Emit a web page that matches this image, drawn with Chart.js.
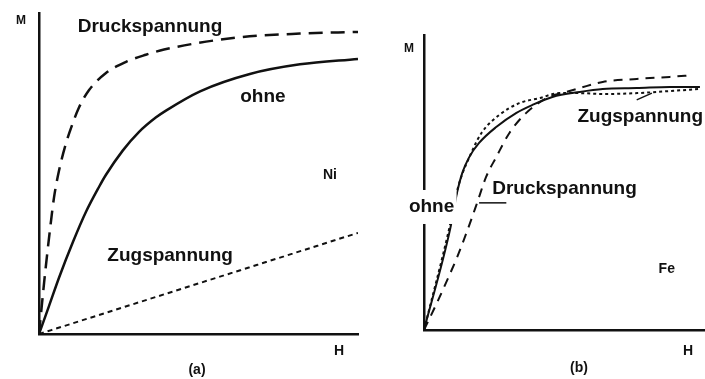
<!DOCTYPE html>
<html>
<head>
<meta charset="utf-8">
<script src="https://cdn.jsdelivr.net/npm/chart.js@4"></script>
<style>
  body { margin: 0; background: #fff; }
  #wrap { position: relative; width: 705px; height: 379px; overflow: hidden; }
  canvas { position: absolute; top: 0; }
</style>
</head>
<body>
<div id="wrap">
  <canvas id="ni-chart" width="360" height="379" style="left:0"></canvas>
  <canvas id="fe-chart" width="345" height="379" style="left:360px"></canvas>
</div>
<script>
// ================================================= Ni: magnetisation curves (a)
const niOhneH = [0, 3.1, 6.3, 10.7, 14.7, 18.8, 21.0, 26.3, 31.3, 36.7, 39.8, 50.5, 66.1, 81.8, 100];
const niOhneM = [0, 8.6, 17.6, 28.8, 38.0, 45.8, 49.6, 57.2, 62.9, 67.5, 69.6, 75.6, 81.0, 84.0, 85.7];

const niDruckH = [0, 1.6, 2.8, 3.8, 4.7, 6.3, 8.5, 10.7, 12.5, 15.7, 21.0, 27.3, 33.5, 39.2, 60.8, 81.8, 100];
const niDruckM = [0, 16.0, 27.0, 35.5, 42.5, 51.0, 59.5, 66.0, 70.5, 76.0, 81.3, 84.8, 87.0, 88.6, 92.2, 93.6, 94.1];

const niZugH = [0, 100];
const niZugM = [0, 31.5];

// ================================================= Fe: magnetisation curves (b)
const feOhneH = [0, 9.3, 11.8, 13.6, 16.1, 19.6, 25.7, 32.9, 38.6, 45.7, 55.4, 63.6, 75.7, 87.5, 98.2];
const feOhneM = [0, 34.2, 46.8, 53.2, 58.6, 63.4, 68.8, 73.6, 76.3, 79.0, 80.7, 81.7, 82.0, 82.4, 82.4];

const feDruckH = [0, 4.6, 8.9, 11.8, 16.4, 18.9, 22.1, 25.7, 30.4, 36.4, 43.6, 50.7, 55.4, 63.6, 75.7, 87.5, 95.7];
const feDruckM = [0, 9.2, 18.3, 24.7, 36.3, 43.1, 51.9, 58.6, 66.8, 73.6, 78.6, 80.7, 82.0, 84.1, 85.1, 85.8, 86.4];

const feZugH = [0, 9.0, 12.0, 16.8, 20.7, 26.8, 33.9, 41.1, 48.2, 55.4, 63.6, 75.7, 87.5, 98.2];
const feZugM = [0, 34.5, 48.0, 60.0, 67.1, 72.9, 76.9, 78.6, 80.3, 80.3, 80.0, 80.3, 81.0, 81.7];

const ink = '#111';
const labelFont = 'bold 19px "Liberation Sans", Arial, sans-serif';
const markFont = 'bold 14px "Liberation Sans", Arial, sans-serif';
const smallFont = 'bold 12px "Liberation Sans", Arial, sans-serif';

function pts(hs, ms) {
  return hs.map((h, i) => ({ x: h, y: ms[i] }));
}

function curve(hs, ms, dash, width) {
  return {
    data: pts(hs, ms),
    borderColor: ink,
    borderWidth: width,
    borderDash: dash,
    borderCapStyle: 'butt',
    pointRadius: 0,
    cubicInterpolationMode: 'monotone',
    fill: false
  };
}

// text + leader lines; h/m are data units, px/py are canvas pixels
const curveLabels = {
  id: 'curveLabels',
  afterDraw(chart, args, opts) {
    const { ctx, scales: { x, y } } = chart;
    ctx.save();
    ctx.strokeStyle = ink;
    ctx.lineWidth = 1.5;
    (opts.leaders || []).forEach(l => {
      ctx.beginPath();
      ctx.moveTo(x.getPixelForValue(l[0]), y.getPixelForValue(l[1]));
      ctx.lineTo(x.getPixelForValue(l[2]), y.getPixelForValue(l[3]));
      ctx.stroke();
    });
    ctx.textBaseline = 'middle';
    (opts.texts || []).forEach(t => {
      const px = t.h !== undefined ? x.getPixelForValue(t.h) : t.px;
      const py = t.m !== undefined ? y.getPixelForValue(t.m) : t.py;
      ctx.font = t.font || labelFont;
      if (t.box) {
        ctx.fillStyle = '#fff';
        ctx.fillRect(px - t.box[0] / 2, py - t.box[1] / 2, t.box[0], t.box[1]);
      }
      ctx.fillStyle = ink;
      ctx.textAlign = t.align || 'center';
      ctx.fillText(t.text, px, py);
    });
    ctx.restore();
  }
};

function axes() {
  const axis = {
    type: 'linear', min: 0, max: 100,
    ticks: { display: false },
    grid: { display: false, drawTicks: false },
    border: { display: true, color: ink, width: 2.5 }
  };
  return { x: Object.assign({}, axis), y: Object.assign({}, axis) };
}

// ================================================================ chart (a)
new Chart(document.getElementById('ni-chart'), {
  type: 'line',
  data: {
    datasets: [
      curve(niDruckH, niDruckM, [14, 8], 2.5),
      curve(niOhneH, niOhneM, [], 2.5),
      curve(niZugH, niZugM, [5, 4], 2)
    ]
  },
  options: {
    responsive: false,
    animation: false,
    layout: { padding: { left: 39, top: 13, right: 2, bottom: 45 } },
    scales: axes(),
    plugins: {
      legend: { display: false },
      tooltip: { enabled: false },
      curveLabels: {
        texts: [
          { text: 'Druckspannung', h: 34.8, m: 95.6 },
          { text: 'ohne', h: 70.2, m: 73.8 },
          { text: 'Ni', h: 91.2, m: 49.5, font: markFont },
          { text: 'Zugspannung', h: 41.1, m: 24.3 },
          { text: 'M', px: 21, py: 21, font: smallFont },
          { text: 'H', px: 339, py: 351, font: markFont },
          { text: '(a)', px: 197, py: 370, font: markFont }
        ]
      }
    }
  },
  plugins: [curveLabels]
});

// ================================================================ chart (b)
new Chart(document.getElementById('fe-chart'), {
  type: 'line',
  data: {
    datasets: [
      curve(feDruckH, feDruckM, [9, 7], 2),
      curve(feOhneH, feOhneM, [], 2),
      curve(feZugH, feZugM, [3, 3], 2)
    ]
  },
  options: {
    responsive: false,
    animation: false,
    layout: { padding: { left: 64, top: 35, right: 0, bottom: 49 } },
    scales: axes(),
    plugins: {
      legend: { display: false },
      tooltip: { enabled: false },
      curveLabels: {
        leaders: [[19.6, 43.1, 29.3, 43.1], [75.7, 78.0, 81.1, 80.3]],
        texts: [
          { text: 'ohne', h: 2.7, m: 41.7, box: [50, 34] },
          { text: 'Druckspannung', h: 50.0, m: 47.8 },
          { text: 'Zugspannung', h: 54.6, m: 72.2, align: 'left' },
          { text: 'Fe', h: 86.4, m: 20.7, font: markFont },
          { text: 'M', px: 49, py: 49, font: smallFont },
          { text: 'H', px: 328, py: 351, font: markFont },
          { text: '(b)', px: 219, py: 368, font: markFont }
        ]
      }
    }
  },
  plugins: [curveLabels]
});
</script>
</body>
</html>
